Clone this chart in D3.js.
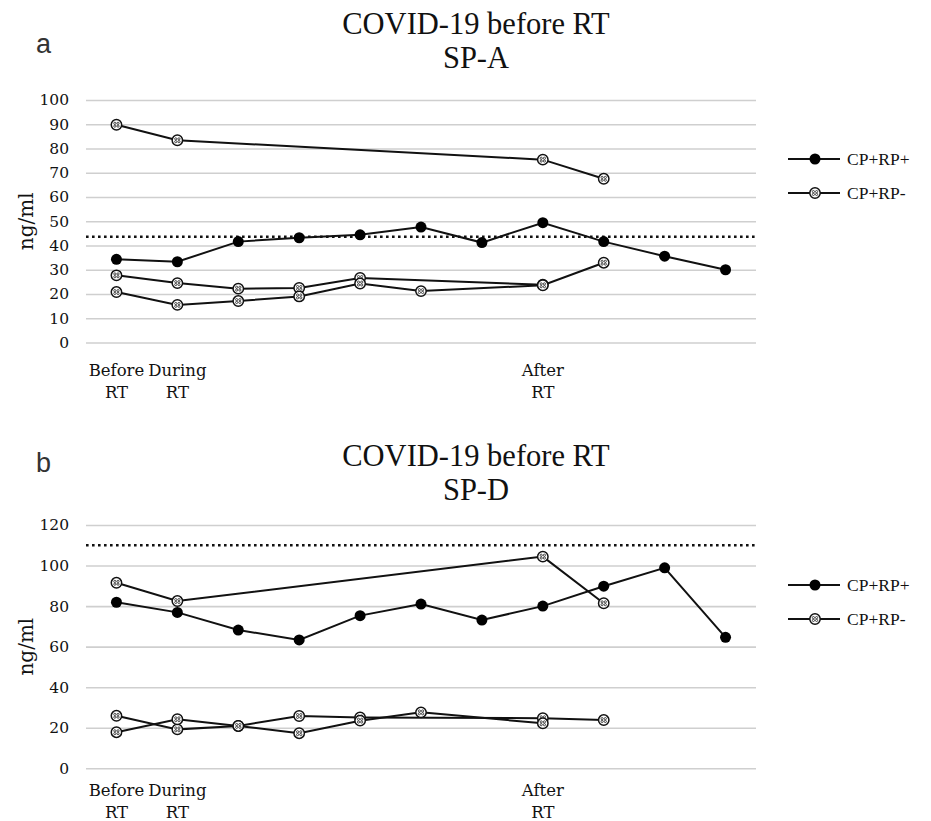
<!DOCTYPE html>
<html>
<head>
<meta charset="utf-8">
<script src="https://cdn.jsdelivr.net/npm/d3@7"></script>
<style>
body { margin: 0; background: #fff; }
</style>
</head>
<body>
<div id="chart"></div>
<script>
// x categories (only three are labelled)
var categories = ["Before\nRT", "During\nRT", "", "", "", "", "", "After\nRT", "", "", ""];
var legendNames = ["CP+RP+", "CP+RP-"];

// panel a : SP-A
var spaTicks = [0, 10, 20, 30, 40, 50, 60, 70, 80, 90, 100];
var spaCutoff = 43.6;
var spaPos = [34.3, 33.3, 41.6, 43.2, 44.4, 47.6, 41.2, 49.4, 41.6, 35.6, 30.0];
var spaNeg1 = [89.8, 83.4, null, null, null, null, null, 75.4, 67.5, null, null];
var spaNeg2 = [27.7, 24.5, 22.2, 22.5, 26.6, null, null, 23.8, null, null, null];
var spaNeg3 = [20.8, 15.5, 17.1, 19.0, 24.3, 21.2, null, 23.6, 32.9, null, null];

// panel b : SP-D
var spdTicks = [0, 20, 40, 60, 80, 100, 120];
var spdCutoff = 110;
var spdPos = [81.9, 76.9, 68.2, 63.3, 75.3, 81.0, 73.1, 80.0, 89.8, 98.9, 64.6];
var spdNeg1 = [91.5, 82.5, null, null, null, null, null, 104.4, 81.4, null, null];
var spdNeg2 = [25.9, 19.2, 20.9, 25.8, 25.1, null, null, 24.7, 23.8, null, null];
var spdNeg3 = [17.8, 24.2, 20.9, 17.3, 23.5, 27.6, null, 22.2, null, null, null];

var serif = "'DejaVu Serif', serif";

var svg = d3.select("#chart").append("svg")
  .attr("width", 931)
  .attr("height", 821);

svg.append("rect").attr("width", 931).attr("height", 821).attr("fill", "#fff");

var x = d3.scaleBand()
  .domain(d3.range(categories.length))
  .range([86, 756]);

function marker(sel, filled) {
  if (filled) {
    sel.append("circle").attr("r", 5.5).attr("fill", "#000");
  } else {
    sel.append("circle").attr("r", 5.2).attr("fill", "#fff")
      .attr("stroke", "#111").attr("stroke-width", 1.5);
    // little dotted pattern inside the hollow marker
    [[-1.6, -1.4], [1.6, -1.4], [-1.6, 1.4], [1.6, 1.4]].forEach(function(p) {
      sel.append("circle").attr("cx", p[0]).attr("cy", p[1]).attr("r", 1.1)
        .attr("fill", "none").attr("stroke", "#222").attr("stroke-width", 0.8);
    });
  }
}

function drawPanel(cfg) {
  var y = d3.scaleLinear()
    .domain([0, cfg.max])
    .range([cfg.bottom, cfg.top]);

  var g = svg.append("g");

  // gridlines and y ticks
  var ya = g.append("g")
    .attr("transform", "translate(" + x.range()[0] + ",0)")
    .call(d3.axisLeft(y).tickValues(cfg.ticks).tickSize(-(x.range()[1] - x.range()[0])).tickPadding(17));
  ya.select(".domain").remove();
  ya.selectAll(".tick line").attr("stroke", "#cfcfcf").attr("stroke-width", 1.6);
  ya.selectAll(".tick text").attr("font-size", 15.5).attr("font-family", serif).attr("fill", "#111");

  // x labels, two lines each
  var xa = g.append("g")
    .attr("transform", "translate(0," + cfg.bottom + ")")
    .call(d3.axisBottom(x).tickSize(0).tickFormat(""));
  xa.select(".domain").remove();
  xa.selectAll(".tick text")
    .attr("y", cfg.labelY).attr("dy", 0)
    .attr("font-size", 16.5).attr("font-family", serif).attr("fill", "#111")
    .each(function(i) {
      var lines = categories[i].split("\n");
      var t = d3.select(this);
      lines.forEach(function(s, k) {
        if (s == "") return;
        t.append("tspan").attr("x", 0).attr("dy", k == 0 ? 0 : 22).text(s);
      });
    });

  // y label
  g.append("text")
    .attr("transform", "translate(33," + (cfg.top + cfg.bottom) / 2 + ") rotate(-90)")
    .attr("text-anchor", "middle")
    .attr("font-family", serif)
    .attr("font-size", 20)
    .attr("fill", "#111")
    .text("ng/ml");

  // reference line
  g.append("line")
    .attr("x1", x.range()[0]).attr("x2", x.range()[1])
    .attr("y1", y(cfg.cutoff)).attr("y2", y(cfg.cutoff))
    .attr("stroke", "#111").attr("stroke-width", 2.6)
    .attr("stroke-dasharray", "2.6,3.4");

  var line = d3.line()
    .x(function(d) { return x(d.i) + x.bandwidth() / 2; })
    .y(function(d) { return y(d.v); });

  var series = cfg.series.map(function(s) {
    return {
      filled: s.filled,
      pts: s.values.map(function(v, i) { return {i: i, v: v}; }).filter(function(d) { return d.v != null; })
    };
  });

  series.forEach(function(s) {
    g.append("path").datum(s.pts)
      .attr("d", line)
      .attr("fill", "none")
      .attr("stroke", "#111")
      .attr("stroke-width", 2);
  });

  series.forEach(function(s) {
    g.selectAll(null).data(s.pts).enter().append("g")
      .attr("transform", function(d) { return "translate(" + (x(d.i) + x.bandwidth() / 2) + "," + y(d.v) + ")"; })
      .each(function() { marker(d3.select(this), s.filled); });
  });

  // title
  var tt = g.append("text")
    .attr("text-anchor", "middle")
    .attr("font-family", "'Liberation Serif', serif")
    .attr("font-size", 30.5)
    .attr("fill", "#111");
  tt.append("tspan").attr("x", 476).attr("y", cfg.titleY).text("COVID-19 before RT");
  tt.append("tspan").attr("x", 476).attr("y", cfg.titleY + 34).text(cfg.name);

  // panel letter
  g.append("text")
    .attr("x", 36).attr("y", cfg.letterY)
    .attr("font-family", "'Liberation Sans', sans-serif")
    .attr("font-size", 27)
    .attr("fill", "#333")
    .text(cfg.letter);

  // legend
  legendNames.forEach(function(name, k) {
    var ly = cfg.legendY + k * 34;
    var lg = g.append("g").attr("transform", "translate(788," + ly + ")");
    lg.append("line").attr("x1", 0).attr("x2", 52).attr("stroke", "#111").attr("stroke-width", 2);
    var m = lg.append("g").attr("transform", "translate(27,0)");
    marker(m, k == 0);
    lg.append("text").attr("x", 59).attr("dy", "0.35em")
      .attr("font-family", "'Liberation Serif', serif")
      .attr("font-size", 17.5)
      .attr("fill", "#111")
      .text(name);
  });
}

drawPanel({
  name: "SP-A", letter: "a", max: 100, ticks: spaTicks, cutoff: spaCutoff,
  top: 100, bottom: 342.5, labelY: 33, titleY: 34, letterY: 53, legendY: 159,
  series: [
    {values: spaPos, filled: true},
    {values: spaNeg1, filled: false},
    {values: spaNeg2, filled: false},
    {values: spaNeg3, filled: false}
  ]
});

drawPanel({
  name: "SP-D", letter: "b", max: 120, ticks: spdTicks, cutoff: spdCutoff,
  top: 525, bottom: 768.3, labelY: 28, titleY: 466, letterY: 472, legendY: 585,
  series: [
    {values: spdPos, filled: true},
    {values: spdNeg1, filled: false},
    {values: spdNeg2, filled: false},
    {values: spdNeg3, filled: false}
  ]
});
</script>
</body>
</html>
